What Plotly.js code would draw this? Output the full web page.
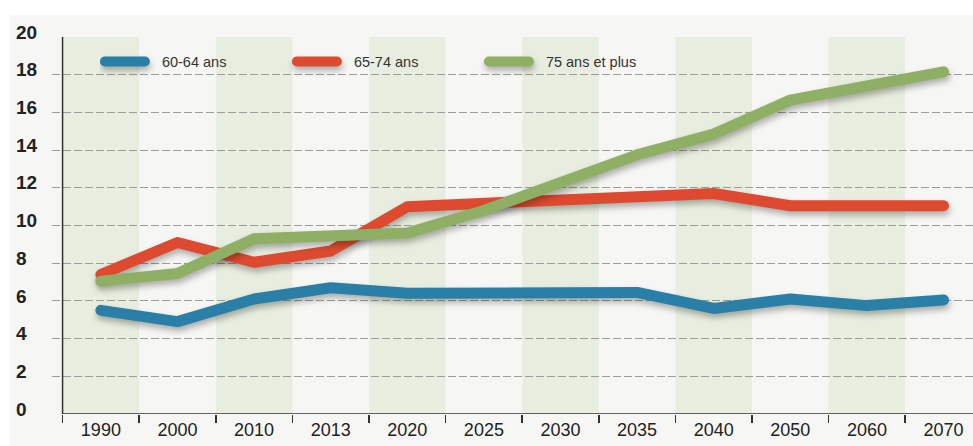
<!DOCTYPE html>
<html>
<head>
<meta charset="utf-8">
<script src="https://cdn.plot.ly/plotly-3.0.1.min.js"></script>
<style>
html, body { margin: 0; padding: 0; background: #ffffff; }
#chart { width: 973px; height: 446px; }
.scatterlayer .js-line, .legend .js-line {
  stroke-linecap: round !important;
  stroke-linejoin: round !important;
  filter: drop-shadow(1px 4px 3px rgba(0,0,0,0.30));
}
</style>
</head>
<body>
<div id="chart"></div>
<script>
const years = ['1990','2000','2010','2013','2020','2025','2030','2035','2040','2050','2060','2070'];
const seriesNames = ['60-64 ans', '65-74 ans', '75 ans et plus'];
const age6064 = [5.5, 4.9, 6.1, 6.7, 6.4, 6.4, 6.4, 6.45, 5.6, 6.1, 5.75, 6.05];
const age6574 = [7.4, 9.1, 8.05, 8.65, 11.0, 11.15, 11.35, 11.5, 11.7, 11.05, 11.05, 11.05];
const age75plus = [7.05, 7.45, 9.3, 9.45, 9.6, 10.8, 12.2, 13.75, 14.85, 16.65, 17.4, 18.15];
const yTickVals = [0, 2, 4, 6, 8, 10, 12, 14, 16, 18, 20];
const yTickText = ['0\u2007', '2\u2007', '4\u2007', '6\u2007', '8\u2007', '10', '12', '14', '16', '18', '20'];

const colors = ['#2a7fa6', '#de4a30', '#8fb064'];
const values = [age6064, age6574, age75plus];

const traces = values.map((v, i) => ({
  type: 'scatter',
  mode: 'lines',
  x: years,
  y: v,
  name: seriesNames[i],
  line: { color: colors[i], width: 11 },
  hoverinfo: 'skip'
}));

const shapes = [];
// background panel
shapes.push({ type: 'rect', xref: 'paper', yref: 'paper', x0: -0.0456, x1: 1.02, y0: -0.2, y1: 1.058,
  fillcolor: '#f6f7f4', line: { width: 0 }, layer: 'below' });
// alternating bands
years.forEach((y, i) => {
  if (i % 2 === 0) {
    shapes.push({ type: 'rect', xref: 'x', yref: 'y', x0: i - 0.5, x1: i + 0.5, y0: 0, y1: 20,
      fillcolor: '#e8eedf', line: { width: 0 }, layer: 'below' });
  }
});
// axis lines
shapes.push({ type: 'line', xref: 'x', yref: 'y', x0: -0.5, x1: -0.5, y0: 0, y1: 20,
  line: { color: '#333333', width: 1.5 }, layer: 'above' });
shapes.push({ type: 'line', xref: 'x', yref: 'y', x0: -0.5, x1: years.length, y0: 0, y1: 0,
  line: { color: '#333333', width: 1.5 }, layer: 'above' });

const layout = {
  width: 973,
  height: 446,
  margin: { l: 52, r: 0, t: 37, b: 32 },
  paper_bgcolor: '#ffffff',
  plot_bgcolor: 'rgba(0,0,0,0)',
  showlegend: true,
  legend: {
    orientation: 'h',
    x: 0.052, xanchor: 'left',
    y: 0.935, yanchor: 'middle',
    bgcolor: 'rgba(0,0,0,0)',
    font: { family: '"Liberation Sans Narrow", "Arial Narrow", "Liberation Sans", Arial, sans-serif', size: 14.5, color: '#333333' },
    entrywidth: 137,
    entrywidthmode: 'pixels',
    itemwidth: 40
  },
  xaxis: {
    type: 'category',
    range: [-0.638, 11.385],
    showgrid: false,
    zeroline: false,
    showline: false,
    ticks: 'outside',
    tickson: 'boundaries',
    ticklen: 8,
    tickwidth: 1.5,
    tickcolor: '#333333',
    ticklabelstandoff: 3,
    tickfont: { family: '"Liberation Sans Narrow", "Arial Narrow", "Liberation Sans", Arial, sans-serif', size: 18, color: '#222222' },
    fixedrange: true
  },
  yaxis: {
    range: [0, 20],
    tickmode: 'array',
    tickvals: yTickVals,
    ticktext: yTickText,
    showgrid: true,
    gridcolor: '#9c9c9c',
    gridwidth: 1.2,
    griddash: '8px,3px',
    zeroline: false,
    showline: false,
    ticks: 'outside',
    ticklen: 10,
    tickcolor: 'rgba(0,0,0,0)',
    ticklabelshift: -5,
    tickfont: { family: '"Liberation Sans", Arial, sans-serif', size: 19, color: '#222222', weight: 'bold' },
    fixedrange: true
  },
  shapes: shapes
};

Plotly.newPlot('chart', traces, layout, { displayModeBar: false, staticPlot: true }).then(() => {
  document.querySelectorAll('#chart .legend .legendtext').forEach(t => {
    const x = parseFloat(t.getAttribute('x')) || 0;
    t.setAttribute('x', x + 12);
  });
});
</script>
</body>
</html>
